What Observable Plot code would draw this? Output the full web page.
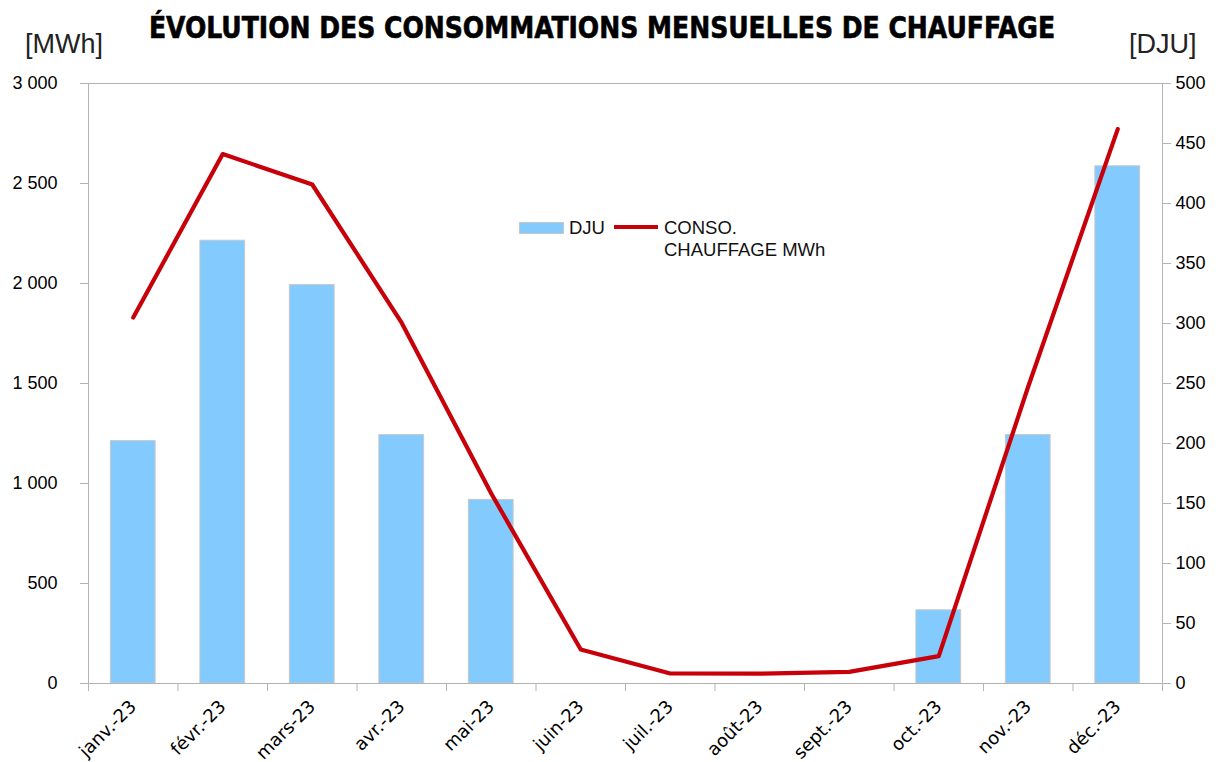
<!DOCTYPE html>
<html>
<head>
<meta charset="utf-8">
<script src="https://cdn.jsdelivr.net/npm/d3@7"></script>
<script src="https://cdn.jsdelivr.net/npm/@observablehq/plot@0.6"></script>
<style>
  html, body { margin: 0; padding: 0; background: #fff; }
  #wrap { position: relative; width: 1216px; height: 762px; overflow: hidden; }
  #title { position: absolute; left: -6px; top: 10px; width: 1216px; text-align: center;
    font-family: "Liberation Sans Narrow", "DejaVu Sans Condensed", sans-serif; font-weight: bold;
    font-size: 31px; line-height: 34px; color: #000; white-space: nowrap;
    transform: scaleX(0.9); transform-origin: 50% 50%; -webkit-text-stroke: 0.6px #000; }
  .unit { position: absolute; top: 31px; font-family: "Liberation Sans", sans-serif; font-size: 27px; line-height: 27px; color: #222; }
  .leg { position: absolute; font-family: "Liberation Sans", sans-serif; font-size: 18.5px; line-height: 22px; color: #111; }
</style>
</head>
<body>
<div id="wrap">
  <div id="chart"></div>
  <div id="title">ÉVOLUTION DES CONSOMMATIONS MENSUELLES DE CHAUFFAGE</div>
  <div class="unit" style="left:25px">[MWh]</div>
  <div class="unit" style="left:1129px">[DJU]</div>
  <div style="position:absolute;left:519px;top:222px;width:43px;height:10px;background:#83caff;border:1px solid #c8c8c8"></div>
  <div class="leg" style="left:569px;top:217px">DJU</div>
  <div style="position:absolute;left:614px;top:225px;width:44px;height:4px;background:#c8000a"></div>
  <div class="leg" style="left:664px;top:217px">CONSO.<br>CHAUFFAGE MWh</div>
</div>
<script>
const months = ["janv.-23", "févr.-23", "mars-23", "avr.-23", "mai-23", "juin-23",
                "juil.-23", "août-23", "sept.-23", "oct.-23", "nov.-23", "déc.-23"];
const dju = [202, 369, 332, 207, 153, 0, 0, 0, 0, 61, 207, 431];
const mwh = [1830, 2647, 2495, 1803, 950, 170, 50, 49, 58, 137, 1485, 2772];
const leftTicks = [0, 500, 1000, 1500, 2000, 2500, 3000];
const rightTicks = [0, 50, 100, 150, 200, 250, 300, 350, 400, 450, 500];
const ratio = 3000 / 500; // MWh per DJU on shared axis

const data = months.map((m, i) => ({month: m, dju: dju[i], mwh: mwh[i]}));
const fr = d3.formatLocale({decimal: ",", thousands: " ", grouping: [3], currency: ["", " €"]}).format(",");

const W = 1216, H = 762;
const mL = 88, mR = 54, mT = 83, mB = 79;
const step = (W - mL - mR) / 12;

const chart = Plot.plot({
  width: W, height: H,
  marginLeft: mL, marginRight: mR, marginTop: mT, marginBottom: mB,
  style: {fontFamily: "Liberation Sans, sans-serif", fontSize: "18px", color: "#000", background: "#fff"},
  x: {type: "band", domain: months, paddingInner: 0.5, paddingOuter: 0.25, round: false, label: null},
  y: {domain: [0, 3000], label: null},
  marks: [
    Plot.barY(data, {x: "month", y: d => d.dju * ratio, fill: "#83caff", stroke: "#c8c8c8", strokeWidth: 1}),
    Plot.frame({stroke: "#b3b3b3"}),
    Plot.axisY(leftTicks, {anchor: "left", tickSize: 8, tickPadding: 23, stroke: "#b3b3b3", fill: "#000", tickFormat: fr, label: null}),
    Plot.axisY(rightTicks.map(d => d * ratio), {anchor: "right", tickSize: 8, tickPadding: 5, stroke: "#b3b3b3", fill: "#000", tickFormat: d => String(d / ratio), label: null}),
    Plot.axisX(months, {tickSize: 8, tickFormat: () => "", dx: -step / 2, stroke: "#b3b3b3", label: null}),
    Plot.axisX(months.slice(-1), {tickSize: 8, tickFormat: () => "", dx: step / 2, stroke: "#b3b3b3", label: null}),
    Plot.axisX(months, {tickSize: 0, tickPadding: 20, tickRotate: -45, fill: "#000", fontFamily: "DejaVu Sans, sans-serif", fontSize: 18, label: null}),
    Plot.line(data, {x: "month", y: "mwh", stroke: "#c8000a", strokeWidth: 4.2})
  ]
});
document.getElementById("chart").appendChild(chart);
</script>
</body>
</html>
